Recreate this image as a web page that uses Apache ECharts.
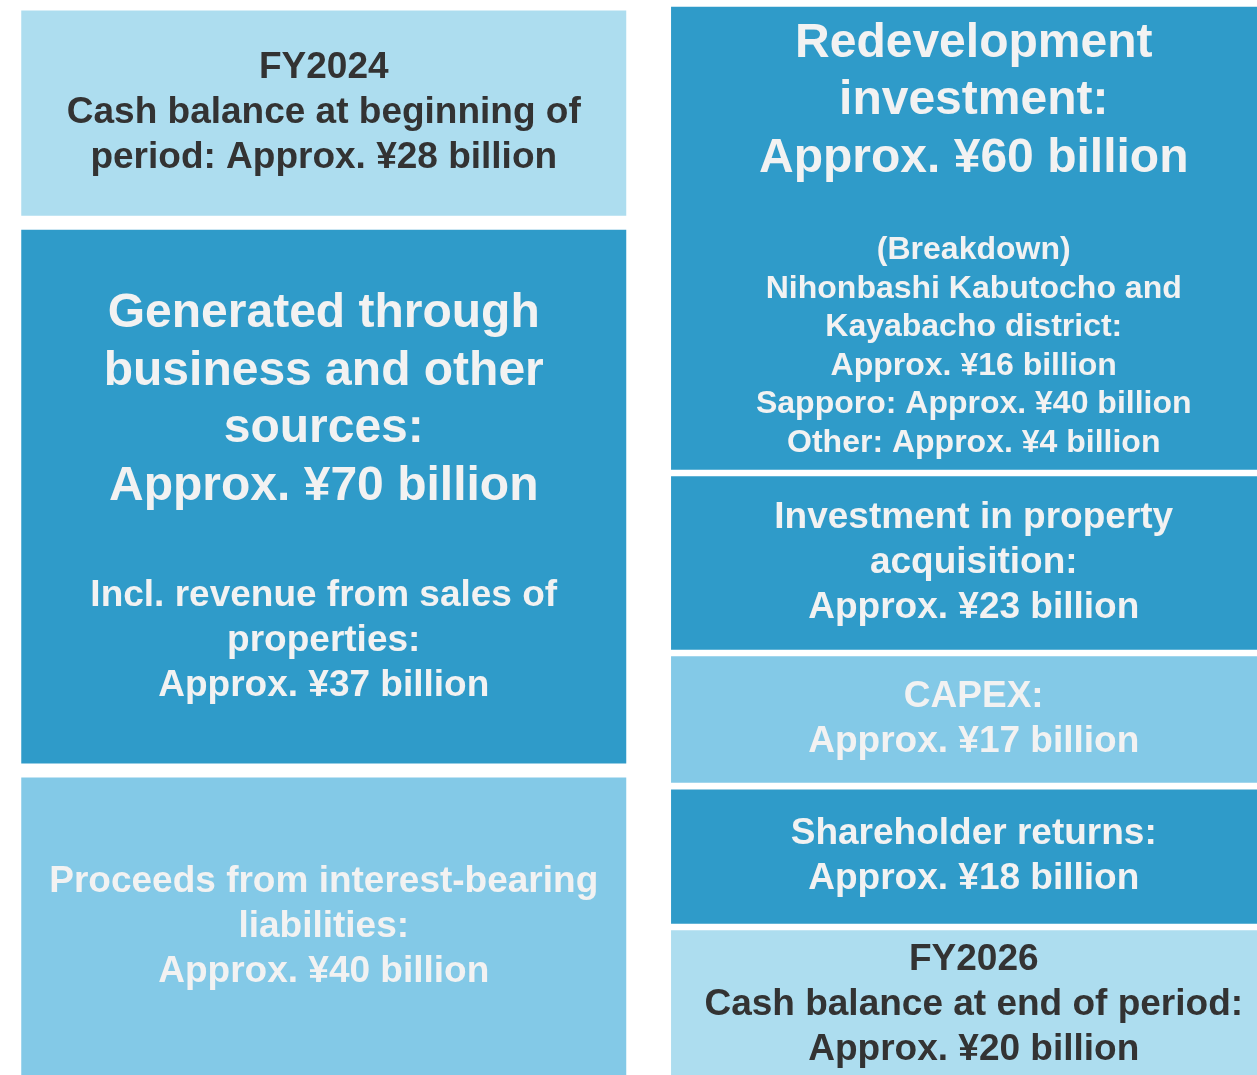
<!DOCTYPE html>
<html>
<head>
<meta charset="utf-8">
<title>Cash allocation FY2024-FY2026</title>
<script src="https://cdn.jsdelivr.net/npm/echarts@6/dist/echarts.min.js"></script>
<style>
  html, body { margin: 0; padding: 0; background: #fff; }
  #chart { width: 1257px; height: 1075px; }
</style>
</head>
<body>
<div id="chart"></div>
<script>
// columns
const categories = ['Sources', 'Uses'];

// sources of cash (top to bottom), ¥ billion
const sourceNames = ['Cash balance at beginning', 'Generated through business', 'Interest-bearing liabilities'];
const sourceValues = [28, 70, 40];

// uses of cash (top to bottom), ¥ billion
const useNames = ['Redevelopment investment', 'Property acquisition', 'CAPEX', 'Shareholder returns', 'Cash balance at end'];
const useValues = [60, 23, 17, 18, 20];

const LIGHT = '#ADDDEF';
const MID = '#2F9BC9';
const PALE = '#83C9E7';
const DARK_TXT = '#333333';
const WHITE_TXT = '#F2F2F2';
const FONT = 'Liberation Sans';

const sourceColors = [LIGHT, MID, PALE];
const useColors = [MID, MID, PALE, MID, LIGHT];

const sourceLabels = [
  '{m|FY2024}\n{m|Cash balance at beginning of}\n{m|period: Approx. ¥28 billion}',
  '{b|Generated through}\n{b|business and other}\n{b|sources:}\n{b|Approx. ¥70 billion}\n{g1| }\n{m|Incl. revenue from sales of}\n{m|properties:}\n{m|Approx. ¥37 billion}',
  '{m|Proceeds from interest-bearing}\n{m|liabilities:}\n{m|Approx. ¥40 billion}'
];
const useLabels = [
  '{b|Redevelopment}\n{b|investment:}\n{b|Approx. ¥60 billion}\n{g2| }\n{s|(Breakdown)}\n{s|Nihonbashi Kabutocho and}\n{s|Kayabacho district:}\n{s|Approx. ¥16 billion}\n{s|Sapporo: Approx. ¥40 billion}\n{s|Other: Approx. ¥4 billion}',
  '{m|Investment in property}\n{m|acquisition:}\n{m|Approx. ¥23 billion}',
  '{m|CAPEX:}\n{m|Approx. ¥17 billion}',
  '{m|Shareholder returns:}\n{m|Approx. ¥18 billion}',
  '{m|FY2026}\n{m|Cash balance at end of period:}\n{m|Approx. ¥20 billion}'
];

function richFor(color) {
  return {
    b: { fontSize: 48, lineHeight: 57.5, fontWeight: 'bold', fontFamily: FONT, color: color },
    m: { fontSize: 37, lineHeight: 45, fontWeight: 'bold', fontFamily: FONT, color: color },
    s: { fontSize: 32, lineHeight: 38.5, fontWeight: 'bold', fontFamily: FONT, color: color },
    g1: { fontSize: 10, lineHeight: 58, color: color },
    g2: { fontSize: 10, lineHeight: 44, color: color }
  };
}

function makeSeries(name, value, col, color, text) {
  const txtColor = color === LIGHT ? DARK_TXT : WHITE_TXT;
  return {
    name: name,
    type: 'bar',
    stack: 'all',
    barWidth: 619,
    data: col === 0 ? [value, '-'] : ['-', value],
    // white border makes the gaps between blocks
    itemStyle: { color: color, borderColor: '#ffffff', borderWidth: col === 0 ? 7 : 3.3 },
    label: {
      show: true,
      position: 'inside',
      align: 'center',
      verticalAlign: 'middle',
      offset: col === 0 ? [0, 0] : [-3.5, 0],
      formatter: text,
      rich: richFor(txtColor)
    }
  };
}

const series = [];
// stack from bottom up
for (let i = sourceValues.length - 1; i >= 0; i--) {
  series.push(makeSeries(sourceNames[i], sourceValues[i], 0, sourceColors[i], sourceLabels[i]));
}
for (let i = useValues.length - 1; i >= 0; i--) {
  series.push(makeSeries(useNames[i], useValues[i], 1, useColors[i], useLabels[i]));
}

const chart = echarts.init(document.getElementById('chart'));
chart.setOption({
  animation: false,
  backgroundColor: '#ffffff',
  grid: { left: -3, top: 3.5, width: 1307, height: 1080, containLabel: false, outerBoundsMode: 'none' },
  xAxis: {
    type: 'category',
    data: categories,
    show: false
  },
  yAxis: {
    type: 'value',
    min: 0,
    max: 138,
    show: false
  },
  series: series
});
</script>
</body>
</html>
